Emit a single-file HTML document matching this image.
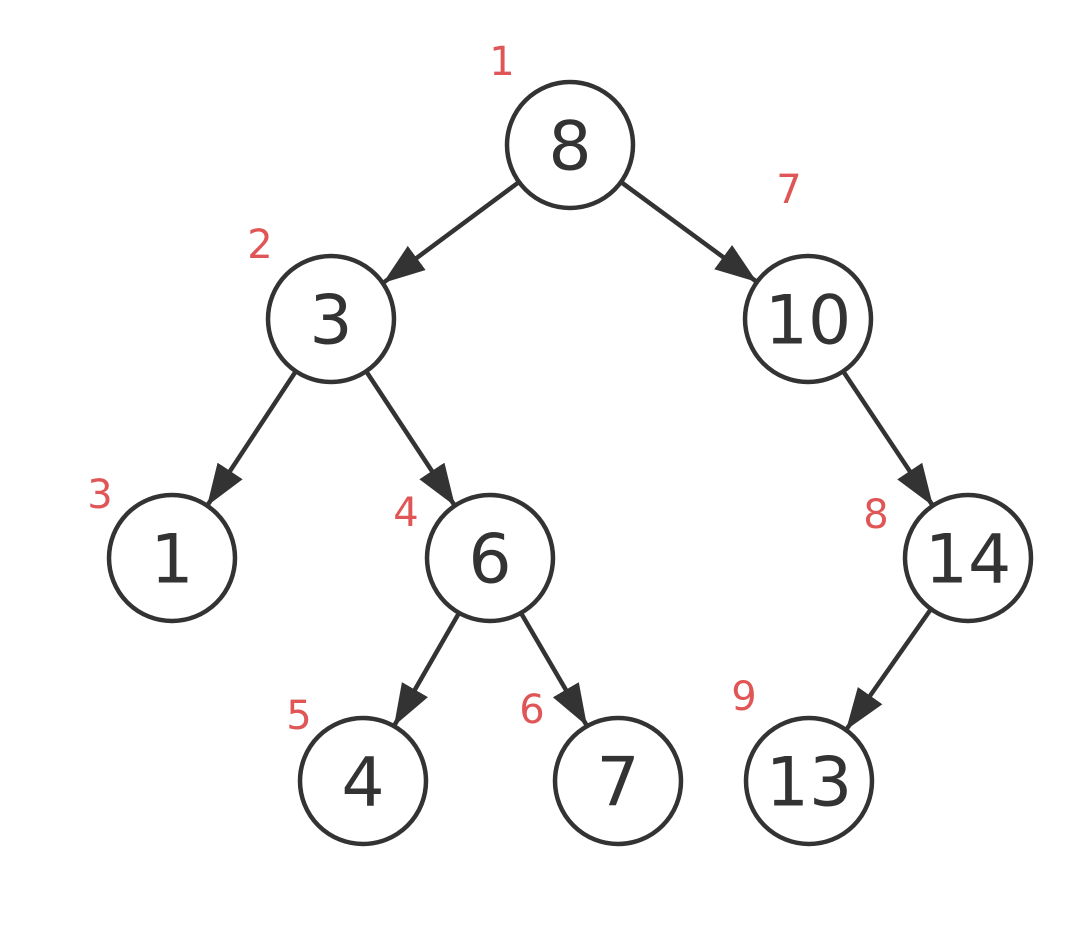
<!DOCTYPE html>
<html><head><meta charset="utf-8"><style>
html,body{margin:0;padding:0;background:#fff;}
svg{display:block;}
.n{font-family:"DejaVu Sans","Liberation Sans",sans-serif;font-size:68px;fill:#333;text-anchor:middle;dominant-baseline:central;}
.l{font-family:"DejaVu Sans","Liberation Sans",sans-serif;font-size:40px;fill:#e05656;text-anchor:middle;dominant-baseline:central;}
circle{fill:#fff;stroke:#333;stroke-width:4.5;}
line{stroke:#333;stroke-width:4.5;}
</style></head><body>
<svg width="1086" height="952" viewBox="0 0 1086 952">
<defs><marker id="a" markerUnits="userSpaceOnUse" markerWidth="44" markerHeight="34" viewBox="0 -17 44 34" refX="42" refY="0" orient="auto"><path d="M0,-15 L42,0 L0,15 z" fill="#333"/></marker></defs>
<line x1="519" y1="182" x2="383" y2="283" marker-end="url(#a)"/>
<line x1="621" y1="182" x2="757" y2="282" marker-end="url(#a)"/>
<line x1="296" y1="371" x2="207" y2="506" marker-end="url(#a)"/>
<line x1="366" y1="371" x2="455" y2="506" marker-end="url(#a)"/>
<line x1="843" y1="371" x2="933" y2="506" marker-end="url(#a)"/>
<line x1="459" y1="613" x2="394" y2="726" marker-end="url(#a)"/>
<line x1="521" y1="613" x2="587" y2="726" marker-end="url(#a)"/>
<line x1="931" y1="609" x2="846" y2="730" marker-end="url(#a)"/>
<circle cx="570" cy="145" r="63"/><text class="n" x="570" y="147">8</text>
<circle cx="331" cy="319" r="63"/><text class="n" x="331" y="321">3</text>
<circle cx="808" cy="319" r="63"/><text class="n" x="808" y="321">10</text>
<circle cx="172" cy="558" r="63"/><text class="n" x="172" y="560">1</text>
<circle cx="490" cy="558" r="63"/><text class="n" x="490" y="560">6</text>
<circle cx="968" cy="558" r="63"/><text class="n" x="968" y="560">14</text>
<circle cx="363" cy="781" r="63"/><text class="n" x="363" y="783">4</text>
<circle cx="618" cy="781" r="63"/><text class="n" x="618" y="783">7</text>
<circle cx="809" cy="781" r="63"/><text class="n" x="809" y="783">13</text>
<text class="l" x="502" y="62">1</text>
<text class="l" x="260" y="245">2</text>
<text class="l" x="789" y="190">7</text>
<text class="l" x="100" y="495">3</text>
<text class="l" x="406" y="513">4</text>
<text class="l" x="876" y="515">8</text>
<text class="l" x="299" y="716">5</text>
<text class="l" x="532" y="710">6</text>
<text class="l" x="744" y="697">9</text>
</svg>
</body></html>
